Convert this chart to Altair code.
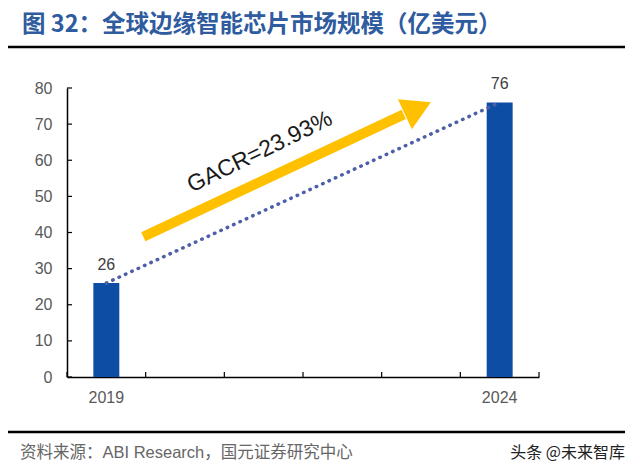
import json
import altair as alt
import pandas as pd

# ---- data ----
years = ["2019", "2020", "2021", "2022", "2023", "2024"]
values = [26, None, None, None, None, 76]
shown_years = ["2019", "2024"]
y_ticks = [0, 10, 20, 30, 40, 50, 60, 70, 80]
trend_years = ["2019", "2024"]
trend_values = [26, 76]
cagr_label = "GACR=23.93%"
title_text = "图 32：全球边缘智能芯片市场规模（亿美元）"
source_text = "资料来源：ABI Research，国元证券研究中心"
watermark_text = "头条 @未来智库"

# arrow annotation, in band units (0..6) along x and value units along y
arrow_ux = [0.97, 4.28]
arrow_vy = [38.8, 72.7]
head_ux = [4.46]
head_vy = [74.4]
label_ux = [2.45]
label_vy = [62.3]

# ---- styling ----
W, H = 472, 289
BAR = "#0E4DA4"
DOT = "#4C5FA8"
YEL = "#FFC000"
LATIN = "Liberation Sans, Arial, Noto Sans CJK SC"
CJK = "Noto Sans CJK SC"

bars_df = pd.DataFrame({"year": years, "value": values})
trend_df = pd.DataFrame({"year": trend_years, "value": trend_values})

xscale = alt.Scale(domain=years, paddingInner=0, paddingOuter=0)
yscale = alt.Scale(domain=[0, 80], nice=False, zero=True)

label_expr = "indexof(%s, datum.value) >= 0 ? datum.value : ''" % json.dumps(shown_years)
xaxis = alt.Axis(title=None, labelExpr=label_expr, labelAngle=0, ticks=False, grid=False,
                 domainColor="black", domainWidth=1.5, labelColor="#595959",
                 labelFontSize=16, labelFont=LATIN, labelPadding=12)
yaxis = alt.Axis(title=None, values=y_ticks, ticks=False, grid=False,
                 domainColor="black", domainWidth=1.5, labelColor="#595959",
                 labelFontSize=16, labelFont=LATIN, labelPadding=15)

X = alt.X("year:O", scale=xscale, axis=xaxis, sort=years)
Y = alt.Y("value:Q", scale=yscale, axis=yaxis)

bars = alt.Chart(bars_df).mark_bar(color=BAR, width=alt.RelativeBandSize(0.33)).encode(x=X, y=Y)
bar_labels = alt.Chart(bars_df).mark_text(
    baseline="alphabetic", dy=-13, fontSize=16, font=LATIN, color="#404040"
).encode(x=X, y=Y, text=alt.Text("value:Q", format="d"))

trend = alt.Chart(trend_df).mark_line(
    color=DOT, strokeWidth=3.5, strokeDash=[0.5, 6.5], strokeCap="round"
).encode(x=X, y=Y)

ytick_df = pd.DataFrame({"value": y_ticks})
yticks = alt.Chart(ytick_df).mark_rule(color="black", strokeWidth=1.2).encode(
    y=Y, x=alt.value(0), x2=alt.value(5))

xtick_df = pd.DataFrame({"year": years})
xticks = alt.Chart(xtick_df).mark_rule(color="black", strokeWidth=1.2).encode(
    x=alt.X("year:O", scale=xscale, axis=xaxis, sort=years, bandPosition=0),
    y=alt.value(H - 5), y2=alt.value(H))
xtick_end = alt.Chart(pd.DataFrame({"year": [years[-1]]})).mark_rule(color="black", strokeWidth=1.2).encode(
    x=alt.X("year:O", scale=xscale, axis=xaxis, sort=years, bandPosition=1),
    y=alt.value(H - 5), y2=alt.value(H))

main = alt.layer(bars, trend, bar_labels, yticks, xticks, xtick_end)

# arrow layer with its own linear x in band units
UX = alt.X("ux:Q", scale=alt.Scale(domain=[0, 6], nice=False, zero=False), axis=None)
shaft_df = pd.DataFrame({"ux": [arrow_ux[0]], "ux2": [arrow_ux[1]],
                         "value": [arrow_vy[0]], "value2": [arrow_vy[1]]})
shaft = alt.Chart(shaft_df).mark_rule(color=YEL, strokeWidth=10, strokeCap="butt").encode(
    x=UX, x2="ux2:Q", y=Y, y2="value2:Q")
head = alt.Chart(pd.DataFrame({"ux": head_ux, "value": head_vy})).mark_point(
    shape="triangle-up", filled=True, size=1090, angle=65, color=YEL, opacity=1
).encode(x=UX, y=Y)
cagr = alt.Chart(pd.DataFrame({"ux": label_ux, "value": label_vy, "t": [cagr_label]})).mark_text(
    angle=334, fontSize=23, font=LATIN, color="#1a1a1a", align="center", baseline="middle"
).encode(x=UX, y=Y, text="t:N")

arrow = alt.layer(shaft, head, cagr)

one = pd.DataFrame({"t": [0]})
title = alt.Chart(one).mark_text(
    text=title_text, align="left", baseline="alphabetic", fontSize=23.5, fontWeight="bold",
    font=CJK, color="#2F5B9F"
).encode(x=alt.value(22 - 67), y=alt.value(32 - 88))
top_line = alt.Chart(one).mark_rule(color="black", strokeWidth=2.5).encode(
    x=alt.value(8 - 67), x2=alt.value(625 - 67), y=alt.value(47 - 88))
bottom_line = alt.Chart(one).mark_rule(color="black", strokeWidth=2.5).encode(
    x=alt.value(8 - 67), x2=alt.value(625 - 67), y=alt.value(432 - 88))
source = alt.Chart(one).mark_text(
    text=source_text, align="left", baseline="alphabetic", fontSize=16.5, font=LATIN, color="#666666"
).encode(x=alt.value(20 - 67), y=alt.value(458 - 88))
watermark = alt.Chart(one).mark_text(
    text=watermark_text, align="right", baseline="alphabetic", fontSize=16, font=CJK, color="#222222"
).encode(x=alt.value(625 - 67), y=alt.value(458 - 88))

chart = alt.layer(main, arrow, title, top_line, bottom_line, source, watermark).resolve_scale(
    x="independent"
).properties(
    width=W, height=H,
    autosize=alt.AutoSizeParams(type="none"),
    padding={"left": 59, "top": 80, "right": 93, "bottom": 90},
    background="white",
).configure_view(stroke=None)

chart.save("out.html", embed_options={"renderer": "svg", "actions": False})
